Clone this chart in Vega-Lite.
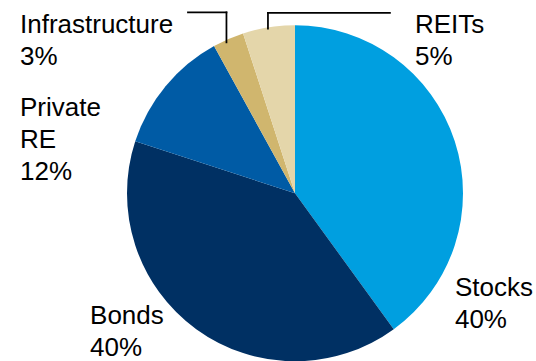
{
  "$schema": "https://vega.github.io/schema/vega-lite/v6.json",
  "width": 536,
  "height": 361,
  "autosize": {"type": "fit", "contains": "padding"},
  "padding": 0,
  "background": "white",
  "config": {"view": {"stroke": null}, "axis": {"disable": true}, "legend": {"disable": true}},
  "data": {"values": [
    {"asset": "Stocks", "share": 40},
    {"asset": "Bonds", "share": 40},
    {"asset": "Private RE", "share": 12},
    {"asset": "Infrastructure", "share": 3},
    {"asset": "REITs", "share": 5}
  ]},
  "transform": [
    {"window": [{"op": "row_number", "as": "rowOrder"}]},
    {"calculate": "datum.asset + ' ' + datum.share + '%'", "as": "label"}
  ],
  "layer": [
    {
      "mark": {"type": "arc", "outerRadius": 168},
      "encoding": {
        "x": {"datum": 0, "type": "quantitative", "scale": {"domain": [-1.75595, 1.43452], "nice": false, "zero": false}},
        "y": {"datum": 0, "type": "quantitative", "scale": {"domain": [-0.98214, 1.16667], "nice": false, "zero": false}},
        "theta": {"field": "share", "type": "quantitative", "stack": true},
        "order": {"field": "rowOrder", "type": "quantitative", "sort": "ascending"},
        "color": {"field": "asset", "type": "nominal",
          "scale": {"domain": ["Stocks", "Bonds", "Private RE", "Infrastructure", "REITs"], "range": ["#009FE0", "#003063", "#005BA5", "#D0B66E", "#E4D6AA"]}}
      }
    },
    {
      "transform": [{"filter": {"field": "asset", "equal": "Infrastructure"}}],
      "mark": {"type": "text", "font": "Liberation Sans", "fontSize": 26, "lineBreak": " ", "lineHeight": 32, "align": "left", "baseline": "alphabetic", "color": "#000000"},
      "encoding": {"x": {"datum": -1.637, "type": "quantitative"}, "y": {"datum": 0.968, "type": "quantitative"}, "text": {"field": "label"}}
    },
    {
      "transform": [{"filter": {"field": "asset", "equal": "REITs"}}],
      "mark": {"type": "text", "font": "Liberation Sans", "fontSize": 26, "lineBreak": " ", "lineHeight": 32, "align": "left", "baseline": "alphabetic", "color": "#000000"},
      "encoding": {"x": {"datum": 0.714, "type": "quantitative"}, "y": {"datum": 0.968, "type": "quantitative"}, "text": {"field": "label"}}
    },
    {
      "transform": [{"filter": {"field": "asset", "equal": "Private RE"}}],
      "mark": {"type": "text", "font": "Liberation Sans", "fontSize": 26, "lineBreak": " ", "lineHeight": 32, "align": "left", "baseline": "alphabetic", "color": "#000000"},
      "encoding": {"x": {"datum": -1.637, "type": "quantitative"}, "y": {"datum": 0.464, "type": "quantitative"}, "text": {"field": "label"}}
    },
    {
      "transform": [{"filter": {"field": "asset", "equal": "Bonds"}}],
      "mark": {"type": "text", "font": "Liberation Sans", "fontSize": 26, "lineBreak": " ", "lineHeight": 32, "align": "left", "baseline": "alphabetic", "color": "#000000"},
      "encoding": {"x": {"datum": -1.220, "type": "quantitative"}, "y": {"datum": -0.786, "type": "quantitative"}, "text": {"field": "label"}}
    },
    {
      "transform": [{"filter": {"field": "asset", "equal": "Stocks"}}],
      "mark": {"type": "text", "font": "Liberation Sans", "fontSize": 26, "lineBreak": " ", "lineHeight": 32, "align": "left", "baseline": "alphabetic", "color": "#000000"},
      "encoding": {"x": {"datum": 0.952, "type": "quantitative"}, "y": {"datum": -0.619, "type": "quantitative"}, "text": {"field": "label"}}
    },
    {
      "data": {"values": [{}]},
      "mark": {"type": "rule", "color": "#000000", "strokeWidth": 1.75, "strokeCap": "square"},
      "encoding": {"x": {"datum": -0.637, "type": "quantitative"}, "x2": {"datum": -0.408}, "y": {"datum": 1.092, "type": "quantitative"}, "y2": {"datum": 1.092}}
    },
    {
      "data": {"values": [{}]},
      "mark": {"type": "rule", "color": "#000000", "strokeWidth": 1.75, "strokeCap": "square"},
      "encoding": {"x": {"datum": -0.408, "type": "quantitative"}, "x2": {"datum": -0.408}, "y": {"datum": 1.092, "type": "quantitative"}, "y2": {"datum": 0.911}}
    },
    {
      "data": {"values": [{}]},
      "mark": {"type": "rule", "color": "#000000", "strokeWidth": 1.75, "strokeCap": "square"},
      "encoding": {"x": {"datum": -0.161, "type": "quantitative"}, "x2": {"datum": 0.565}, "y": {"datum": 1.089, "type": "quantitative"}, "y2": {"datum": 1.089}}
    },
    {
      "data": {"values": [{}]},
      "mark": {"type": "rule", "color": "#000000", "strokeWidth": 1.75, "strokeCap": "square"},
      "encoding": {"x": {"datum": -0.161, "type": "quantitative"}, "x2": {"datum": -0.161}, "y": {"datum": 1.089, "type": "quantitative"}, "y2": {"datum": 0.994}}
    }
  ]
}
